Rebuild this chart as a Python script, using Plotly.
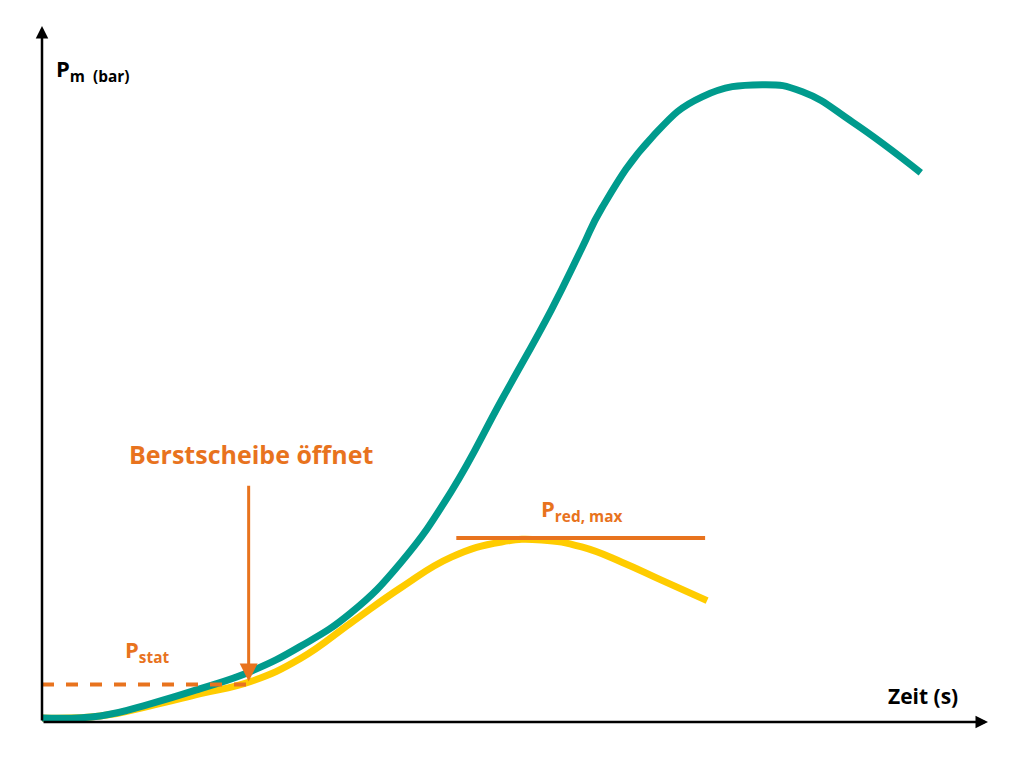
import plotly.graph_objects as go

# pixel-like data coordinates (x from origin, y upward)
teal_x = [0, 58, 108, 158, 208, 258, 308, 358, 408, 458, 508, 538, 558, 608, 658, 718, 758, 808, 876]
teal_y = [4, 6, 18, 33, 50, 75, 108, 158, 228, 318, 408, 468, 508, 578, 618, 630, 623, 593, 543]
yel_x = [0, 58, 108, 158, 208, 258, 308, 358, 408, 458, 498, 538, 578, 618, 663]
yel_y = [4, 6, 16, 28, 40, 63, 98, 133, 163, 178, 180, 173, 158, 140, 120]
p_red = 182
p_stat = 37
burst_x = 206

TEAL = "#009B8D"; YEL = "#FFCC00"; OR = "#E8731E"
fig = go.Figure()
fig.add_trace(go.Scatter(x=yel_x, y=yel_y, mode="lines", line=dict(color=YEL, width=7, shape="spline", smoothing=1.3)))
fig.add_trace(go.Scatter(x=teal_x, y=teal_y, mode="lines", line=dict(color=TEAL, width=7, shape="spline", smoothing=1.3)))
fig.add_trace(go.Scatter(x=[413, 661], y=[p_red, p_red], mode="lines", line=dict(color=OR, width=4)))
fig.add_trace(go.Scatter(x=[0, burst_x], y=[p_stat, p_stat], mode="lines", line=dict(color=OR, width=4, dash="dash")))

ann = [
    dict(x=burst_x, y=p_stat+3, ax=burst_x, ay=235, axref="x", ayref="y", showarrow=True,
         arrowhead=2, arrowsize=1.2, arrowwidth=3, arrowcolor=OR, text=""),
    dict(x=943, y=0, ax=0, ay=0, axref="x", ayref="y", showarrow=True, arrowhead=2, arrowsize=1, arrowwidth=2.5, arrowcolor="black", text=""),
    dict(x=0, y=688, ax=0, ay=0, axref="x", ayref="y", showarrow=True, arrowhead=2, arrowsize=1, arrowwidth=2.5, arrowcolor="black", text=""),
    dict(x=208, y=265, text="<b>Berstscheibe öffnet</b>", showarrow=False, font=dict(color=OR, size=25)),
    dict(x=538, y=210, text="<b>P<sub>red, max</sub></b>", showarrow=False, font=dict(color=OR, size=22)),
    dict(x=105, y=70, text="<b>P<sub>stat</sub></b>", showarrow=False, font=dict(color=OR, size=22)),
    dict(x=878, y=26, text="<b>Zeit (s)</b>", showarrow=False, font=dict(color="black", size=21)),
    dict(x=12, y=645, xanchor="left", text="<b>P<sub>m  (bar)</sub></b>", showarrow=False, font=dict(color="black", size=22)),
]
fig.update_layout(
    width=1024, height=758, showlegend=False, plot_bgcolor="white", paper_bgcolor="white",
    margin=dict(l=34, r=44, t=18, b=44), annotations=ann,
    font=dict(family="Open Sans"),
    xaxis=dict(range=[0, 943], visible=False),
    yaxis=dict(range=[0, 688], visible=False),
)
fig.write_html("out.html")
